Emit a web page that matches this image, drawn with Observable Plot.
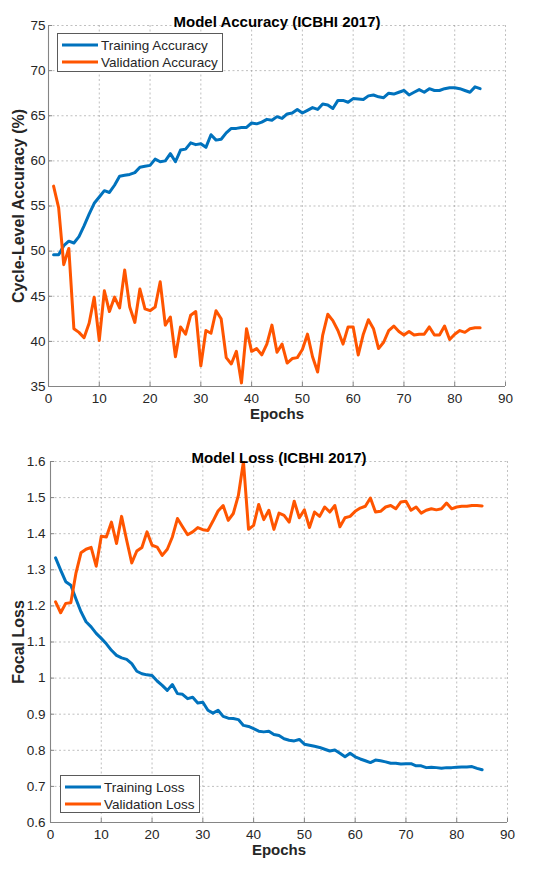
<!DOCTYPE html>
<html>
<head>
<meta charset="utf-8">
<script src="https://cdn.jsdelivr.net/npm/d3@7"></script>
<script src="https://cdn.jsdelivr.net/npm/@observablehq/plot@0.6"></script>
<style>
  html, body { margin: 0; padding: 0; background: #fff; }
  #wrap { position: relative; width: 550px; height: 872px; font-family: "Liberation Sans", Arial, sans-serif; }
  .panel { position: absolute; left: 0; }
  .legend { position: absolute; background: #fff; border: 1px solid #5a5a5a; box-sizing: border-box; font-size: 13.5px; color: #262626; }
  .legend .row { position: absolute; left: 0; height: 16px; display: flex; align-items: center; white-space: nowrap; }
  .legend svg { margin-left: 4px; margin-right: 3px; }
</style>
</head>
<body>
<div id="wrap"></div>
<script>
// ---------- data ----------
const trainAcc = [
  49.6, 49.6, 50.6, 51.1, 50.9, 51.6, 52.8, 54.1, 55.3, 56.0,
  56.7, 56.5, 57.3, 58.3, 58.4, 58.5, 58.7, 59.3, 59.4, 59.5,
  60.2, 59.9, 60.0, 60.8, 59.9, 61.2, 61.3, 62.0, 61.8, 61.9,
  61.5, 62.9, 62.3, 62.4, 63.1, 63.6, 63.6, 63.7, 63.7, 64.2,
  64.1, 64.3, 64.6, 64.5, 64.9, 64.7, 65.2, 65.3, 65.7, 65.3,
  65.6, 65.9, 65.7, 66.3, 66.2, 65.8, 66.7, 66.7, 66.5, 66.9,
  66.85, 66.8, 67.2, 67.3, 67.1, 67.0, 67.5, 67.4, 67.6, 67.8,
  67.3, 67.6, 67.9, 67.6, 68.0, 67.8, 67.8, 68.0, 68.1, 68.1,
  68.0, 67.8, 67.6, 68.2, 68.0
];
const valAcc = [
  57.2, 54.8, 48.5, 50.3, 41.4, 41.0, 40.4, 42.0, 44.9, 40.1,
  45.6, 43.3, 44.9, 43.7, 47.9, 43.8, 42.1, 45.8, 43.6, 43.4,
  43.8, 46.6, 41.8, 42.7, 38.3, 41.6, 40.8, 42.9, 43.3, 37.3,
  41.2, 40.9, 43.4, 42.5, 38.2, 37.5, 38.9, 35.4, 41.4, 38.9,
  39.2, 38.5, 39.7, 41.8, 38.8, 39.7, 37.6, 38.1, 38.2, 39.1,
  40.8, 38.3, 36.6, 40.7, 43.0, 42.3, 41.2, 39.7, 41.6, 41.6,
  38.5, 40.8, 42.4, 41.4, 39.2, 39.9, 41.2, 41.7, 41.1, 40.7,
  41.1, 40.7, 40.8, 40.8, 41.6, 40.7, 40.7, 41.7, 40.2, 40.8,
  41.2, 41.0, 41.4, 41.5, 41.5
];
const trainLoss = [
  1.333, 1.299, 1.267, 1.257, 1.220, 1.184, 1.156, 1.142, 1.124, 1.110,
  1.095, 1.077, 1.063, 1.056, 1.052, 1.040, 1.019, 1.012, 1.009, 1.007,
  0.992, 0.980, 0.966, 0.982, 0.957, 0.955, 0.943, 0.947, 0.931, 0.933,
  0.911, 0.903, 0.911, 0.894, 0.889, 0.888, 0.885, 0.869, 0.866, 0.860,
  0.853, 0.851, 0.853, 0.844, 0.841, 0.832, 0.828, 0.826, 0.830, 0.817,
  0.814, 0.811, 0.808, 0.803, 0.798, 0.801, 0.792, 0.782, 0.792, 0.782,
  0.776, 0.771, 0.766, 0.773, 0.771, 0.768, 0.764, 0.764, 0.762, 0.763,
  0.763, 0.757, 0.757, 0.752, 0.753, 0.752, 0.750, 0.752, 0.752, 0.753,
  0.754, 0.754, 0.755, 0.750, 0.746
];
const valLoss = [
  1.211, 1.181, 1.207, 1.209, 1.290, 1.347, 1.357, 1.362, 1.310, 1.393,
  1.391, 1.432, 1.373, 1.448, 1.382, 1.319, 1.352, 1.362, 1.405, 1.368,
  1.363, 1.340, 1.357, 1.391, 1.442, 1.419, 1.397, 1.405, 1.417, 1.411,
  1.409, 1.435, 1.463, 1.478, 1.437, 1.456, 1.506, 1.600, 1.412, 1.423,
  1.481, 1.439, 1.465, 1.412, 1.457, 1.451, 1.432, 1.490, 1.444, 1.466,
  1.417, 1.460, 1.448, 1.474, 1.460, 1.478, 1.419, 1.444, 1.448, 1.462,
  1.471, 1.476, 1.499, 1.460, 1.462, 1.474, 1.478, 1.469, 1.488, 1.490,
  1.465, 1.474, 1.457, 1.465, 1.469, 1.466, 1.469, 1.485, 1.469, 1.474,
  1.476, 1.476, 1.478, 1.478, 1.477
];
const xTicks = [0, 10, 20, 30, 40, 50, 60, 70, 80, 90];
const accTicks = [35, 40, 45, 50, 55, 60, 65, 70, 75];
const lossTicks = [0.6, 0.7, 0.8, 0.9, 1.0, 1.1, 1.2, 1.3, 1.4, 1.5, 1.6];
const lossTickLabels = ["0.6", "0.7", "0.8", "0.9", "1", "1.1", "1.2", "1.3", "1.4", "1.5", "1.6"];
const accSeries = ["Training Accuracy", "Validation Accuracy"];
const lossSeries = ["Training Loss", "Validation Loss"];
const colors = ["#0072BD", "#FF5500"];

const toRows = (arr) => arr.map((v, i) => ({epoch: i + 1, value: v}));

const FONT = '"Liberation Sans", Arial, sans-serif';
const gridStyle = {stroke: "#9a9a9a", strokeOpacity: 0.7, strokeDasharray: "2,2.5", strokeWidth: 0.9};
const axisColor = "#858585";

function panel({title, ylabel, yDomain, yTicks, yFormat, train, val, marginLeft, marginRight, tickPad}) {
  return Plot.plot({
    width: 550,
    height: 436,
    marginLeft, marginRight,
    marginTop: 25,
    marginBottom: 50,
    x: {domain: [0, 90]},
    y: {domain: yDomain},
    style: {fontFamily: FONT, fontSize: "13.5px", color: "#262626", background: "#fff", overflow: "visible"},
    marks: [
      Plot.gridX(xTicks, gridStyle),
      Plot.gridY(yTicks, gridStyle),
      Plot.ruleX([0], {stroke: axisColor, strokeWidth: 1.1}),
      Plot.ruleY([yDomain[0]], {stroke: axisColor, strokeWidth: 1.1}),
      Plot.axisX(xTicks, {tickSize: -4, tickPadding: 11, label: null, fontSize: 13.5, stroke: axisColor, fill: "#262626"}),
      Plot.axisY(yTicks, {tickSize: -4, tickPadding: tickPad + 4, label: null, fontSize: 13.5, tickFormat: yFormat, stroke: axisColor, fill: "#262626"}),
      Plot.line(toRows(train), {x: "epoch", y: "value", stroke: colors[0], strokeWidth: 3, clip: true}),
      Plot.line(toRows(val), {x: "epoch", y: "value", stroke: colors[1], strokeWidth: 3, clip: true}),
      Plot.text([title], {frameAnchor: "top", dy: -9, fontWeight: "bold", fontSize: 15, fill: "#000"}),
      Plot.text(["Epochs"], {frameAnchor: "bottom", dy: 32, fontWeight: "bold", fontSize: 15, fill: "#262626"}),
      Plot.text([ylabel], {frameAnchor: "left", textAnchor: "middle", dx: -(marginLeft - 18), rotate: -90, fontWeight: "bold", fontSize: 16, fill: "#262626"})
    ]
  });
}

const wrapEl = document.getElementById("wrap");

const accPlot = panel({
  title: "Model Accuracy (ICBHI 2017)",
  ylabel: "Cycle-Level Accuracy (%)",
  yDomain: [35, 75], yTicks: accTicks, yFormat: d => String(d),
  train: trainAcc, val: valAcc, marginLeft: 48, marginRight: 45, tickPad: 3
});
accPlot.classList.add("panel");
accPlot.style.top = "0px";
wrapEl.appendChild(accPlot);

const lossPlot = panel({
  title: "Model Loss (ICBHI 2017)",
  ylabel: "Focal Loss",
  yDomain: [0.6, 1.6], yTicks: lossTicks, yFormat: d => lossTickLabels[lossTicks.findIndex(t => Math.abs(t - d) < 1e-9)],
  train: trainLoss, val: valLoss, marginLeft: 50, marginRight: 43, tickPad: 5
});
lossPlot.classList.add("panel");
lossPlot.style.top = "436px";
wrapEl.appendChild(lossPlot);

// ---------- legends ----------
function legend(names, left, topPx, width, height) {
  const box = document.createElement("div");
  box.className = "legend";
  Object.assign(box.style, {left: left + "px", top: topPx + "px", width: width + "px", height: height + "px"});
  names.forEach((name, i) => {
    const row = document.createElement("div");
    row.className = "row";
    row.style.top = (3 + i * 17) + "px";
    row.innerHTML = `<svg width="36" height="6"><line x1="0" x2="36" y1="3" y2="3" stroke="${colors[i]}" stroke-width="3.2"/></svg><span>${name}</span>`;
    box.appendChild(row);
  });
  wrapEl.appendChild(box);
}
legend(accSeries, 57, 33, 166, 39);
legend(lossSeries, 60, 775, 140, 38);
</script>
</body>
</html>
